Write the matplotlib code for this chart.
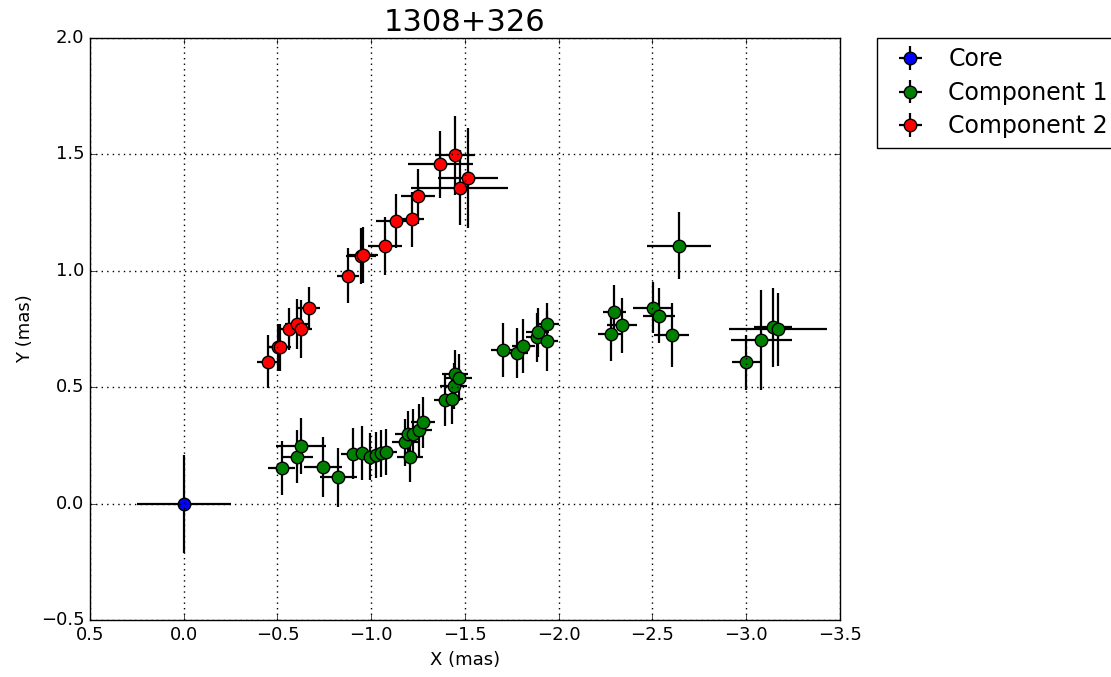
import matplotlib
matplotlib.use('Agg')
import matplotlib.pyplot as plt

plt.style.use('classic')

# core position
core_x = [0.0]
core_y = [0.0]
core_xerr = [0.25]
core_yerr = [0.21]

# component 1 (green)
c1_x = [-0.522, -0.605, -0.626, -0.744, -0.825, -0.903, -0.951, -0.994, -1.028, -1.054,
        -1.077, -1.205, -1.182, -1.196, -1.221, -1.253, -1.276, -1.395, -1.429, -1.439,
        -1.447, -1.468, -1.702, -1.775, -1.812, -1.885, -1.887, -1.940, -1.936, -2.277,
        -2.297, -2.339, -2.503, -2.535, -2.602, -2.643, -3.001, -3.081, -3.143, -3.170]
c1_y = [0.154, 0.202, 0.247, 0.157, 0.114, 0.214, 0.217, 0.202, 0.209, 0.216,
        0.222, 0.200, 0.263, 0.299, 0.298, 0.316, 0.349, 0.445, 0.449, 0.505,
        0.558, 0.541, 0.660, 0.646, 0.677, 0.714, 0.736, 0.770, 0.698, 0.728,
        0.822, 0.766, 0.842, 0.807, 0.723, 1.108, 0.607, 0.703, 0.757, 0.749]
c1_xerr = [0.07, 0.085, 0.133, 0.10, 0.10, 0.066, 0.06, 0.06, 0.06, 0.06,
           0.06, 0.07, 0.07, 0.07, 0.06, 0.07, 0.065, 0.06, 0.06, 0.07,
           0.07, 0.07, 0.065, 0.06, 0.06, 0.06, 0.06, 0.06, 0.06, 0.065,
           0.06, 0.08, 0.107, 0.085, 0.093, 0.172, 0.075, 0.164, 0.10, 0.26]
c1_yerr = [0.115, 0.115, 0.12, 0.13, 0.127, 0.11, 0.115, 0.10, 0.10, 0.10,
           0.10, 0.107, 0.10, 0.10, 0.11, 0.11, 0.11, 0.11, 0.105, 0.10,
           0.10, 0.10, 0.115, 0.107, 0.115, 0.105, 0.105, 0.093, 0.13, 0.115,
           0.118, 0.118, 0.11, 0.118, 0.137, 0.145, 0.118, 0.213, 0.17, 0.157]

# component 2 (red)
c2_x = [-0.447, -0.504, -0.513, -0.561, -0.602, -0.625, -0.667, -0.877, -0.948, -0.957,
        -1.072, -1.130, -1.219, -1.249, -1.368, -1.447, -1.516, -1.471]
c2_y = [0.610, 0.671, 0.671, 0.749, 0.772, 0.749, 0.839, 0.978, 1.063, 1.068,
        1.107, 1.214, 1.222, 1.321, 1.457, 1.496, 1.400, 1.357]
c2_xerr = [0.058, 0.06, 0.06, 0.06, 0.06, 0.06, 0.058, 0.06, 0.08, 0.08,
           0.09, 0.107, 0.06, 0.089, 0.173, 0.107, 0.16, 0.26]
c2_yerr = [0.115, 0.10, 0.10, 0.09, 0.107, 0.125, 0.093, 0.118, 0.12, 0.12,
           0.125, 0.115, 0.118, 0.118, 0.143, 0.17, 0.215, 0.16]

fig = plt.figure(figsize=(11.11, 6.77), dpi=100)
ax = fig.add_axes([0.081, 0.084, 0.675, 0.86])

style = dict(fmt='o', ecolor='black', elinewidth=1.6, capsize=0,
             markersize=9, markeredgewidth=1.0)
ax.errorbar(core_x, core_y, xerr=core_xerr, yerr=core_yerr, color='blue',
            label='Core', **style)
ax.errorbar(c1_x, c1_y, xerr=c1_xerr, yerr=c1_yerr, color='green',
            label='Component 1', **style)
ax.errorbar(c2_x, c2_y, xerr=c2_xerr, yerr=c2_yerr, color='red',
            label='Component 2', **style)

ax.set_xlim(0.5, -3.5)
ax.set_ylim(-0.5, 2.0)
ax.set_xlabel('X (mas)', fontsize=13)
ax.set_ylabel('Y (mas)', fontsize=13)
ax.set_title('1308+326', fontsize=22)
ax.tick_params(labelsize=13)
ax.grid(True, linestyle=':', linewidth=1.0, color='black')

ax.legend(loc='upper left', bbox_to_anchor=(1.05, 1.0), numpoints=1, fontsize=17,
          borderaxespad=0., labelspacing=0.4, handletextpad=0.6)

fig.savefig('out.png', dpi=100)
